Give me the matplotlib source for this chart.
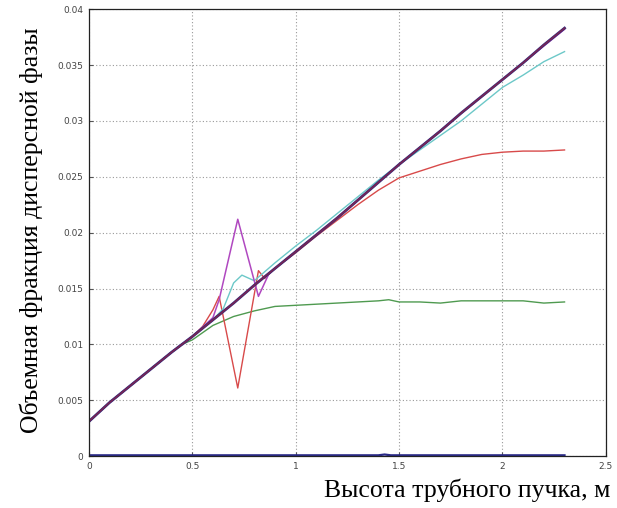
import matplotlib
matplotlib.use("Agg")
import matplotlib.pyplot as plt

# ---- data ----
main_x = [0, 0.1, 0.2, 0.3, 0.4, 0.5, 0.6, 0.7, 0.8, 0.9, 1.0, 1.1, 1.2, 1.3, 1.4, 1.5,
          1.6, 1.7, 1.8, 1.9, 2.0, 2.1, 2.2, 2.3]
main_y = [0.0031, 0.0048, 0.0063, 0.0078, 0.0093, 0.0107, 0.0122, 0.0137, 0.0153, 0.0168,
          0.0183, 0.0198, 0.0213, 0.0229, 0.0245, 0.0261, 0.0276, 0.0291, 0.0307, 0.0322,
          0.0337, 0.0352, 0.0368, 0.0383]

cyan_x = [0, 0.1, 0.2, 0.3, 0.4, 0.5, 0.6, 0.65, 0.7, 0.74, 0.8, 0.85, 0.9, 1.0, 1.1, 1.2,
          1.3, 1.4, 1.5, 1.6, 1.7, 1.8, 1.9, 2.0, 2.1, 2.2, 2.3]
cyan_y = [0.0031, 0.0048, 0.0063, 0.0078, 0.0093, 0.0107, 0.0122, 0.0132, 0.0155, 0.0162,
          0.0157, 0.0165, 0.0173, 0.0188, 0.0202, 0.0217, 0.0232, 0.0247, 0.0261, 0.0274,
          0.0287, 0.0300, 0.0315, 0.0330, 0.0341, 0.0353, 0.0362]

red_x = [0, 0.1, 0.2, 0.3, 0.4, 0.5, 0.55, 0.6, 0.63, 0.72, 0.82, 0.85, 0.9, 1.0, 1.1, 1.2,
         1.3, 1.4, 1.5, 1.6, 1.7, 1.8, 1.9, 2.0, 2.1, 2.2, 2.3]
red_y = [0.0031, 0.0048, 0.0063, 0.0078, 0.0093, 0.0107, 0.0116, 0.0131, 0.0143, 0.0061,
         0.0166, 0.0159, 0.0168, 0.0182, 0.0197, 0.0211, 0.0225, 0.0238, 0.0249, 0.0255,
         0.0261, 0.0266, 0.0270, 0.0272, 0.0273, 0.0273, 0.0274]

mag_x = [0, 0.1, 0.2, 0.3, 0.4, 0.5, 0.6, 0.63, 0.72, 0.82, 0.87, 0.9, 1.0, 1.2, 1.5,
         2.0, 2.3]
mag_y = [0.0031, 0.0048, 0.0063, 0.0078, 0.0093, 0.0107, 0.0124, 0.0140, 0.0212, 0.0143,
         0.0163, 0.0168, 0.0183, 0.0213, 0.0261, 0.0337, 0.0382]

green_x = [0, 0.1, 0.2, 0.3, 0.4, 0.45, 0.5, 0.6, 0.7, 0.8, 0.9, 1.0, 1.1, 1.2, 1.3, 1.4,
           1.45, 1.5, 1.6, 1.7, 1.8, 1.9, 2.0, 2.1, 2.2, 2.3]
green_y = [0.0031, 0.0048, 0.0063, 0.0078, 0.0093, 0.0100, 0.0104, 0.0117, 0.0125, 0.0130,
           0.0134, 0.0135, 0.0136, 0.0137, 0.0138, 0.0139, 0.0140, 0.0138, 0.0138, 0.0137,
           0.0139, 0.0139, 0.0139, 0.0139, 0.0137, 0.0138]

zero_x = [0, 1.40, 1.43, 1.46, 2.3]
zero_y = [0.00008, 0.00008, 0.00015, 0.00008, 0.00008]

xticks = [0, 0.5, 1, 1.5, 2, 2.5]
xtick_labels = ["0", "0.5", "1", "1.5", "2", "2.5"]
yticks = [0, 0.005, 0.01, 0.015, 0.02, 0.025, 0.03, 0.035, 0.04]
ytick_labels = ["0", "0.005", "0.01", "0.015", "0.02", "0.025", "0.03", "0.035", "0.04"]

ylabel = "Объемная фракция дисперсной фазы"
xlabel = "Высота трубного пучка, м"

# ---- figure ----
fig = plt.figure(figsize=(6.17, 5.08), dpi=100)
ax = fig.add_axes([0.144, 0.102, 0.838, 0.880])

ax.plot(green_x, green_y, color="#4f9a50", lw=1.0)
ax.plot(red_x, red_y, color="#d84a4a", lw=1.0)
ax.plot(cyan_x, cyan_y, color="#6cc8c8", lw=1.0)
ax.plot(mag_x, mag_y, color="#b048c0", lw=1.1)
ax.plot(main_x, main_y, color="#302a80", lw=2.0)
ax.plot(main_x, main_y, color="#8a2448", lw=1.2, alpha=0.8)
ax.plot(zero_x, zero_y, color="#2a2a88", lw=1.6)

ax.set_xlim(0, 2.5)
ax.set_ylim(0, 0.04)
ax.set_xticks(xticks)
ax.set_xticklabels(xtick_labels)
ax.set_yticks(yticks)
ax.set_yticklabels(ytick_labels)
ax.tick_params(labelsize=6.5, labelcolor="#444444", direction="in", length=3,
               color="#555555", pad=4)
ax.grid(True, linestyle=(0, (1, 2)), color="#999999", lw=0.8)
for s in ax.spines.values():
    s.set_color("#222222")
    s.set_linewidth(0.9)

fig.text(0.05, 0.547, ylabel, rotation=90, ha="center", va="center",
         fontsize=18.5, family="Liberation Serif")
fig.text(0.99, 0.035, xlabel, ha="right", va="center",
         fontsize=18.5, family="Liberation Serif")

fig.savefig("out.png", dpi=100)
